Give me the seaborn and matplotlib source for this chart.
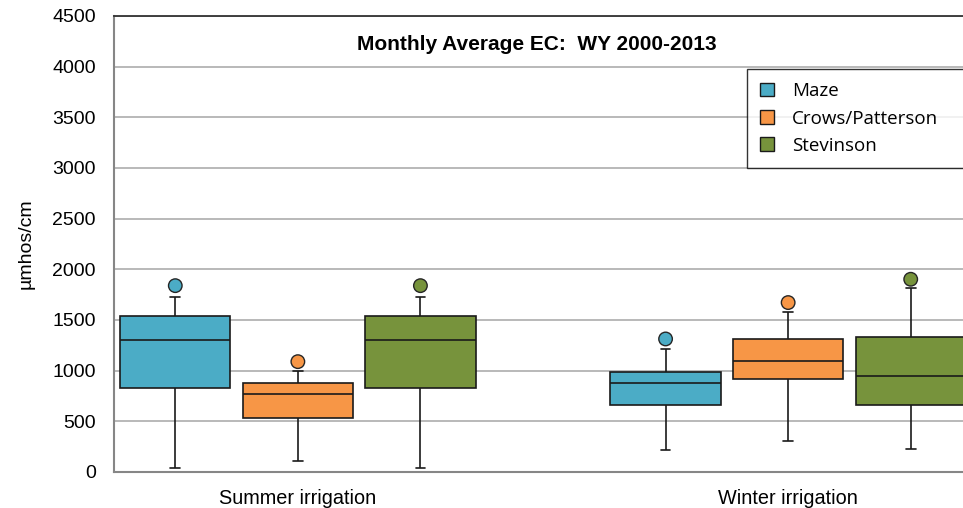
import numpy as np
import pandas as pd
import matplotlib
matplotlib.use("Agg")
import matplotlib.pyplot as plt
from matplotlib.patches import Patch
import seaborn as sns

# Box statistics (µmhos/cm)
SITES = ["Maze", "Crows/Patterson", "Stevinson"]
SEASONS = ["Summer irrigation", "Winter irrigation"]
COLORS = ["#4BACC6", "#F79646", "#77933C"]

summer_low = [42, 112, 42]
summer_q1 = [832, 533, 832]
summer_median = [1300, 770, 1300]
summer_q3 = [1537, 875, 1537]
summer_high = [1730, 1000, 1730]
summer_outlier = [1839, 1089, 1839]

winter_low = [220, 306, 230]
winter_q1 = [665, 918, 665]
winter_median = [879, 1096, 951]
winter_q3 = [984, 1310, 1333]
winter_high = [1214, 1577, 1814]
winter_outlier = [1313, 1672, 1902]

# slot index of each box along the x axis (slot 3 is the gap between seasons)
summer_slots = [0, 1, 2]
winter_slots = [4, 5, 6]

rows = []
outliers = []
for slots, low, q1, med, q3, high, out in [
    (summer_slots, summer_low, summer_q1, summer_median, summer_q3, summer_high, summer_outlier),
    (winter_slots, winter_low, winter_q1, winter_median, winter_q3, winter_high, winter_outlier),
]:
    for i, site in enumerate(SITES):
        for v in (low[i], q1[i], med[i], q3[i], high[i]):
            rows.append({"slot": slots[i], "site": site, "EC": v})
        outliers.append({"slot": slots[i], "site": site, "EC": out[i]})

df = pd.DataFrame(rows)
df_out = pd.DataFrame(outliers)

sns.set_style("white")
plt.rcParams["font.family"] = ["Liberation Sans", "DejaVu Sans"]
plt.rcParams["text.color"] = "black"
plt.rcParams["axes.labelcolor"] = "black"
plt.rcParams["xtick.color"] = "black"
plt.rcParams["ytick.color"] = "black"

fig = plt.figure(figsize=(9.63, 5.08), dpi=100)
ax = fig.add_axes([114 / 963, 36 / 508, (972 - 114) / 963, (472 - 16) / 508])

palette = dict(zip(SITES, COLORS))
sns.boxplot(data=df, x="slot", y="EC", hue="site", hue_order=SITES, palette=palette,
            native_scale=True, dodge=False, width=0.9, whis=(0, 100), showfliers=False,
            saturation=1, linecolor="#1a1a1a", linewidth=1.2, capwidths=0.08,
            legend=False, ax=ax, zorder=3)
sns.scatterplot(data=df_out, x="slot", y="EC", hue="site", hue_order=SITES, palette=palette,
                s=95, edgecolor="#262626", linewidth=1.0, legend=False, ax=ax, zorder=4)

ax.set_xlim(-0.5, 6.5)
ax.set_ylim(0, 4500)
ax.set_yticks(np.arange(0, 4501, 500))
ax.yaxis.grid(True, color="#b3b3b3", linewidth=1.3, zorder=0)
ax.set_axisbelow(True)

ax.set_xticks(np.arange(-0.5, 7, 1.0))
ax.set_xticklabels([])
ax.set_xticks([1, 5], minor=True)
ax.set_xticklabels(SEASONS, minor=True, fontsize=14.3)
ax.tick_params(axis="x", which="minor", length=0, pad=12)
ax.tick_params(axis="x", which="major", length=5, width=1, color="#868686", direction="out")
ax.tick_params(axis="y", length=6, width=1, color="#868686", labelsize=14, pad=7, direction="out")
ax.set_xlabel("")
ax.set_ylabel("µmhos/cm", fontsize=14, labelpad=13)

ax.spines["right"].set_visible(False)
ax.spines["top"].set_color("#333333")
ax.spines["top"].set_linewidth(1.3)
for s in ["left", "bottom"]:
    ax.spines[s].set_color("#868686")
    ax.spines[s].set_linewidth(1.5)

fig.text(537 / 963, 1 - 44 / 508, "Monthly Average EC:  WY 2000-2013", ha="center", va="center",
         fontsize=15, fontweight="bold")

handles = [Patch(facecolor=c, edgecolor="#1a1a1a", linewidth=1.0) for c in COLORS]
leg = fig.legend(handles, SITES, loc="upper left", mode="expand",
                 bbox_to_anchor=(747 / 963, 0, 0.3, 1 - 69 / 508),
                 prop={"family": "Open Sans", "size": 13.5}, frameon=True, fancybox=False,
                 edgecolor="black", borderpad=0.7, labelspacing=0.5, handlelength=0.75,
                 handleheight=0.75, handletextpad=0.95, borderaxespad=0)
leg.get_frame().set_linewidth(1.0)

fig.savefig("out.png", dpi=100)
